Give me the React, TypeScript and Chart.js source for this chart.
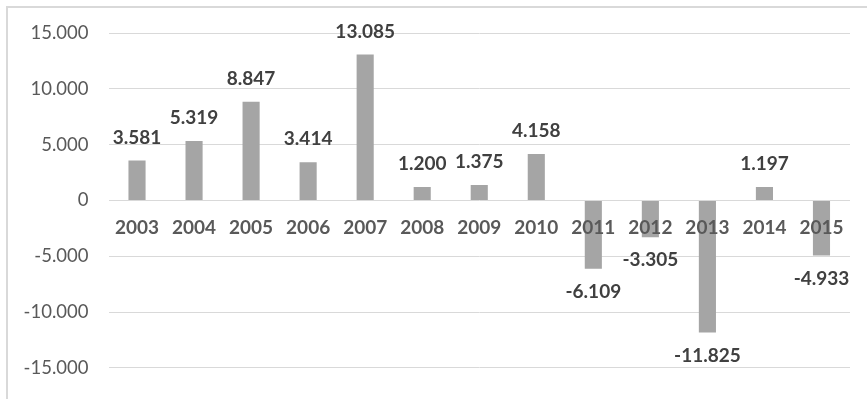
import React, { useEffect, useRef } from "react";
import { Chart, registerables } from "chart.js";

Chart.register(...registerables);

const categories = ["2003", "2004", "2005", "2006", "2007", "2008", "2009", "2010", "2011", "2012", "2013", "2014", "2015"];
const values = [3581, 5319, 8847, 3414, 13085, 1200, 1375, 4158, -6109, -3305, -11825, 1197, -4933];
const yMin = -15000;
const yMax = 15000;
const yStep = 5000;

const FONT = "Lato, 'Open Sans', 'DejaVu Sans', sans-serif";

function fmt(n: number): string {
  const s = Math.abs(Math.round(n)).toString().replace(/\B(?=(\d{3})+(?!\d))/g, ".");
  return (n < 0 ? "-" : "") + s;
}

const labelsPlugin = {
  id: "labelsPlugin",
  afterDatasetsDraw(chart: any) {
    const ctx = chart.ctx;
    const meta = chart.getDatasetMeta(0);
    const data = chart.data.datasets[0].data as number[];
    const xs = chart.scales.x;
    const ys = chart.scales.y;
    const y0 = ys.getPixelForValue(0);
    ctx.save();
    ctx.textAlign = "center";
    ctx.textBaseline = "middle";
    // category labels at the zero line
    ctx.font = `bold 19px ${FONT}`;
    ctx.fillStyle = "#595959";
    (chart.data.labels as string[]).forEach((lab, i) => {
      ctx.fillText(lab, xs.getPixelForValue(i), y0 + 27.5);
    });
    // value labels
    ctx.fillStyle = "#404040";
    meta.data.forEach((el: any, i: number) => {
      const v = data[i];
      const off = 23;
      const y = v >= 0 ? el.y - off : el.y + off;
      ctx.fillText(fmt(v), el.x, y);
    });
    ctx.restore();
  },
};

export default function App() {
  const ref = useRef<HTMLCanvasElement | null>(null);
  useEffect(() => {
    if (!ref.current) return;
    const chart = new Chart(ref.current, {
      type: "bar",
      data: {
        labels: categories,
        datasets: [
          {
            data: values,
            backgroundColor: "#A5A5A5",
            borderWidth: 0,
            barPercentage: 0.3,
            categoryPercentage: 1,
          },
        ],
      },
      options: {
        animation: false,
        responsive: false,
        maintainAspectRatio: false,
        layout: { padding: { top: 33, bottom: 24, left: 0, right: 17 } },
        plugins: { legend: { display: false }, tooltip: { enabled: false } },
        scales: {
          x: {
            display: false,
          },
          y: {
            min: yMin,
            max: yMax,
            afterFit: (scale: any) => {
              scale.width = 108.5;
            },
            grid: { color: "#D9D9D9", lineWidth: 1, drawTicks: false },
            border: { display: false },
            ticks: {
              stepSize: yStep,
              padding: 20,
              font: { family: FONT, size: 18.5 },
              color: "#595959",
              callback: (v: any) => fmt(Number(v)),
            },
          },
        },
      },
      plugins: [labelsPlugin],
    });
    return () => chart.destroy();
  }, []);

  return (
    <div style={{ position: "fixed", left: 0, top: 0, width: 867, height: 399, background: "#fff" }}>
      <div
        style={{
          position: "absolute",
          left: 6,
          top: 6,
          right: -10,
          bottom: -10,
          borderTop: "2px solid #D9D9D9",
          borderLeft: "2px solid #D9D9D9",
        }}
      />
      <canvas ref={ref} width={867} height={399} style={{ position: "absolute", left: 0, top: 0, width: 867, height: 399 }} />
    </div>
  );
}
